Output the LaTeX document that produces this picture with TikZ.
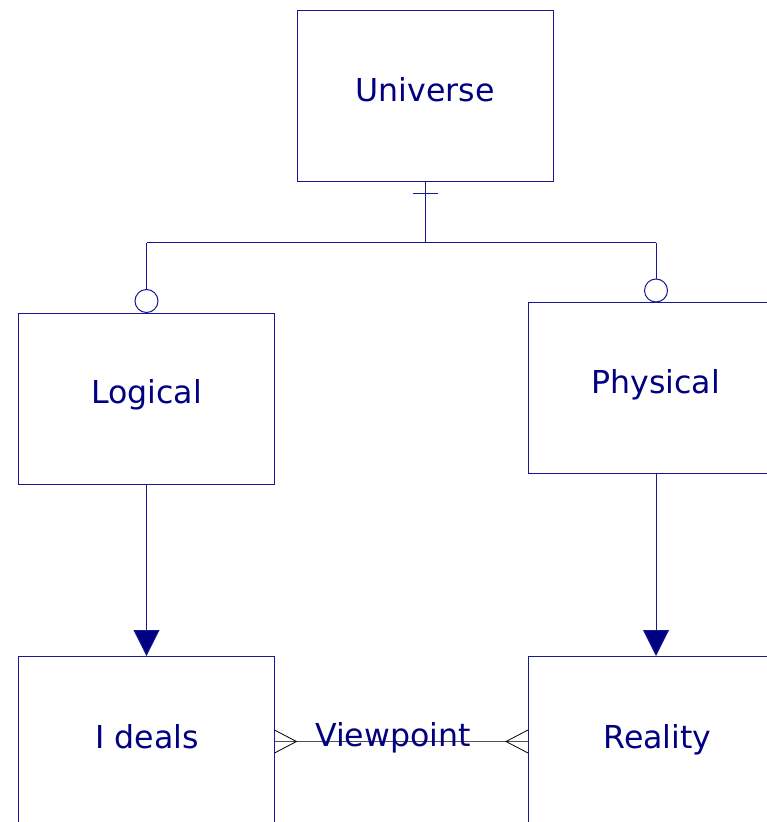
\documentclass[tikz,border=0pt]{standalone}
\usepackage{fontspec}
\setmainfont{DejaVu Sans}
\usetikzlibrary{arrows.meta}
\definecolor{ink}{RGB}{0,0,128}
\definecolor{edge}{RGB}{24,24,150}
\definecolor{relline}{RGB}{80,80,80}
\begin{document}
\begin{tikzpicture}[x=1pt,y=-1pt,
  entity/.style={draw=edge,line width=1pt,minimum width=256pt,minimum height=171pt,inner sep=0pt,outer sep=0pt},
  lbl/.style={text=ink,font=\fontsize{31.6}{36}\selectfont,inner sep=0pt,anchor=base},
  link/.style={draw=edge,line width=1pt},
  optional/.style={draw=edge,line width=1pt,fill=white},
  fillarrow/.style={link,-{Triangle[length=26pt,width=26pt,fill=ink]}},
  crow/.style={draw=black,line width=0.8pt}]
\useasboundingbox (0,0) rectangle (767,822);
\clip (0,0) rectangle (767,822);

% entity boxes
\node[entity] (universe) at (425,95.5) {};
\node[entity] (logical)  at (146.5,398.5) {};
\node[entity] (physical) at (656,388) {};
\node[entity] (ideals)   at (146.5,741.5) {};
\node[entity] (reality)  at (656,741.5) {};

% subtype connector from Universe
\coordinate (fork) at (425,242.5);
\coordinate (forkL) at (146.5,242.5);
\coordinate (forkR) at (656,242.5);
\draw[link] (universe.south) -- (fork);
\draw[link] (forkL) -- (forkR);
\draw[link] (425,193) ++(-12.5,0) -- ++(25,0);
\node[optional,circle,minimum size=23pt,inner sep=0pt,anchor=south] (optL) at (logical.north) {};
\node[optional,circle,minimum size=23pt,inner sep=0pt,anchor=south] (optR) at (physical.north) {};
\draw[link] (forkL) -- (optL.north);
\draw[link] (forkR) -- (optR.north);

% mandatory arrows
\draw[fillarrow] (logical.south) -- (ideals.north);
\draw[fillarrow] (physical.south) -- (reality.north);

% many-to-many relationship
\draw[draw=relline,line width=0.8pt] (ideals.east) -- (reality.west);
\coordinate (crowL) at ([xshift=22pt]ideals.east);
\coordinate (crowR) at ([xshift=-22pt]reality.west);
\draw[crow] ([yshift=-11.5pt]ideals.east) -- (crowL) -- ([yshift=11.5pt]ideals.east);
\draw[crow] ([yshift=-11.5pt]reality.west) -- (crowR) -- ([yshift=11.5pt]reality.west);

% labels
\node[lbl] (tUniverse) at (425,101) {Universe};
\node[lbl] (tLogical)  at (146.5,403) {Logical};
\node[lbl] (tPhysical) at (655.5,393) {Physical};
\node[lbl] (tIdeals)   at (147,748) {I deals};
\node[lbl] (tReality)  at (657.5,748) {Reality};
\node[lbl] (tView)     at (393,746) {Viewpoint};
\end{tikzpicture}
\end{document}
